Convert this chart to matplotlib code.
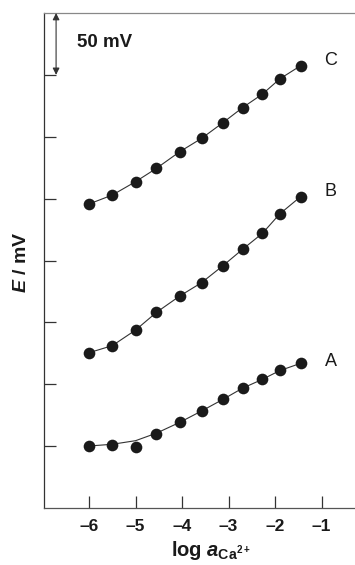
import matplotlib

matplotlib.use('Agg')

import matplotlib.pyplot as plt

plt.rcParams['font.family'] = ['Liberation Sans', 'DejaVu Sans']
plt.rcParams['mathtext.fontset'] = 'custom'
plt.rcParams['mathtext.rm'] = 'Liberation Sans:bold'
plt.rcParams['mathtext.it'] = 'Liberation Sans:italic:bold'

# log activity of Ca2+ (same for all three electrodes)
log_a = [-6, -5.5, -5, -4.55, -4.05, -3.58, -3.12, -2.7, -2.27, -1.9, -1.45]

# measured potentials (mV, arbitrary offset)
E_A = [50.1, 50.9, 49.5, 59.5, 69.7, 78.4, 87.8, 97.2, 104.0, 111.5, 116.9]
E_B = [125.5, 131.2, 143.8, 158.1, 171.3, 182.1, 195.8, 209.0, 222.0, 237.6, 251.6]
E_C = [245.7, 252.9, 263.7, 274.5, 287.9, 298.7, 311.4, 323.5, 334.5, 346.7, 357.4]

# fitted curves
fit_A = [50.1, 51.5, 54.4, 60.5, 69.2, 78.4, 87.8, 96.8, 104.0, 111.0, 116.9]
fit_B = E_B
fit_C = E_C

labels = ['A', 'B', 'C']
label_y = [118, 256, 362]

xticks = [-6, -5, -4, -3, -2, -1]
xtick_labels = ['\u20136', '\u20135', '\u20134', '\u20133', '\u20132', '\u20131']
yticks = [50, 100, 150, 200, 250, 300, 350]

fig = plt.figure(figsize=(3.55, 5.65), dpi=100)
ax = fig.add_axes([44 / 355, 57 / 565, 1 - 44 / 355, 495 / 565])

for E, fit in [(E_A, fit_A), (E_B, fit_B), (E_C, fit_C)]:
    ax.plot(log_a, fit, color='#333333', lw=0.8, zorder=2)
    ax.plot(log_a, E, 'o', color='#1a1a1a', ms=8.4, mec='none', zorder=3)

for lab, ly in zip(labels, label_y):
    ax.text(-0.8, ly, lab, fontsize=13, ha='center', va='center', color='#1a1a1a')

ax.set_xlim(-6.97, -0.28)
ax.set_ylim(0, 400)

ax.set_xticks(xticks)
ax.set_xticklabels(xtick_labels, fontsize=12.5, fontweight='bold', color='#1a1a1a')
ax.set_yticks(yticks)
ax.set_yticklabels([])
ax.tick_params(direction='in', length=8.6, width=0.9, color='#333333')
ax.tick_params(axis='x', pad=8)

ax.spines['right'].set_visible(False)
ax.spines['top'].set_color('#888888')
ax.spines['left'].set_color('#333333')
ax.spines['bottom'].set_color('#555555')
for s in ax.spines.values():
    s.set_linewidth(0.9)

# 50 mV scale bar
ax.annotate('', xy=(-6.71, 400), xytext=(-6.71, 350),
            arrowprops=dict(arrowstyle='<|-|>', color='#333333', lw=0.8,
                            mutation_scale=10, shrinkA=0, shrinkB=0))
ax.text(-6.27, 376, '50 mV', fontsize=13.5, fontweight='bold', ha='left',
        va='center', color='#1a1a1a')

fig.text(22 / 355, 1 - 262 / 565, '$E$ / mV', rotation=90, fontsize=14,
         fontweight='bold', ha='center', va='center', color='#1a1a1a')
fig.text(211 / 355, 1 - 556 / 565, r'log $a_{\mathrm{Ca}^{2+}}$', fontsize=14.5,
         fontweight='bold', ha='center', va='baseline', color='#1a1a1a')

fig.savefig('out.png', dpi=100)
